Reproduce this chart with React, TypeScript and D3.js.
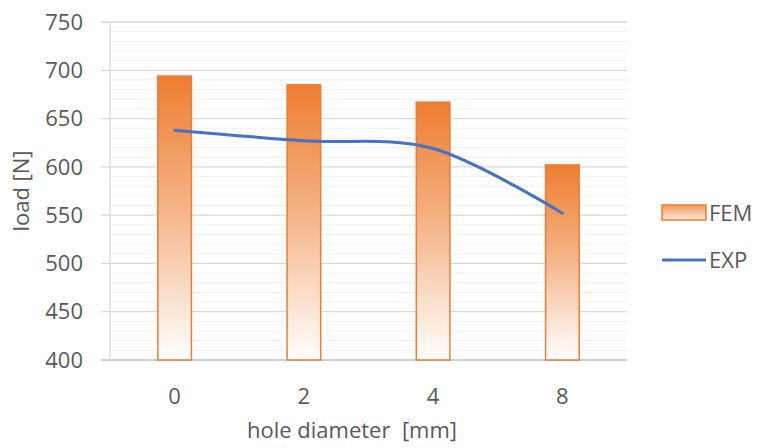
import React from 'react'
import * as d3 from 'd3'

// hole diameter categories
const categories = ['0', '2', '4', '8']
// FEM load values [N]
const femValues = [694, 685, 667, 602]
// experimental load values [N]
const expValues = [638, 627, 619, 552]
const yTicks = [400, 450, 500, 550, 600, 650, 700, 750]
const seriesNames = ['FEM', 'EXP']

const width = 761
const height = 448
const margin = { top: 22, right: 134, bottom: 88, left: 110 }
const font = '"Open Sans", sans-serif'
const fontSize = 22
const textColor = '#595959'

const App: React.FC = () => {
  const x = d3.scaleBand<string>()
    .domain(categories)
    .range([margin.left, width - margin.right])
    .paddingInner(0.74)
    .paddingOuter(0.37)

  const y = d3.scaleLinear()
    .domain([400, 750])
    .range([height - margin.bottom, margin.top])

  const minorTicks = d3.range(400, 751, 10).filter(v => v % 50 !== 0)

  const line = d3.line<number>()
    .x((_, i) => (x(categories[i]) ?? 0) + x.bandwidth() / 2)
    .y(d => y(d))
    .curve(d3.curveCardinal.tension(0))

  const x0 = margin.left
  const x1 = width - margin.right
  const legendX = 662

  return (
    <svg width={width} height={height} style={{ position: 'absolute', left: 0, top: 0, background: '#fff' }}>
      <defs>
        <linearGradient id="femGrad" x1="0" y1="0" x2="0" y2="1">
          <stop offset="0%" stopColor="#ED7D31" />
          <stop offset="45%" stopColor="#F4B183" />
          <stop offset="100%" stopColor="#FFFFFF" />
        </linearGradient>
        <linearGradient id="legendGrad" x1="0" y1="0" x2="0" y2="1">
          <stop offset="0%" stopColor="#F09A5E" />
          <stop offset="100%" stopColor="#FCE8DA" />
        </linearGradient>
      </defs>

      {/* minor gridlines */}
      {minorTicks.map(v => (
        <line key={'m' + v} x1={x0} x2={x1} y1={y(v)} y2={y(v)} stroke="#efefef" strokeWidth={1} />
      ))}
      {/* major gridlines */}
      {yTicks.map(v => (
        <line key={'M' + v} x1={x0 - 9} x2={x1} y1={y(v)} y2={y(v)}
          stroke={v === 400 ? '#bfbfbf' : '#d9d9d9'} strokeWidth={v === 400 ? 1.5 : 1.3} />
      ))}
      <line x1={x0} x2={x0} y1={y(750)} y2={y(400)} stroke="#d9d9d9" strokeWidth={1.3} />

      {/* y tick labels */}
      {yTicks.map(v => (
        <text key={'t' + v} x={83} y={y(v)} dy="0.35em" textAnchor="end"
          fontFamily={font} fontSize={fontSize} fill={textColor}>{v}</text>
      ))}

      {/* bars */}
      {femValues.map((v, i) => (
        <rect key={'b' + i}
          x={x(categories[i])}
          y={y(v)}
          width={x.bandwidth()}
          height={y(400) - y(v)}
          fill="url(#femGrad)"
          stroke="#ED7D31"
          strokeWidth={1.5} />
      ))}

      {/* EXP line */}
      <path d={line(expValues) ?? ''} fill="none" stroke="#4472C4" strokeWidth={3} strokeLinecap="round" />

      {/* x tick labels */}
      {categories.map(c => (
        <text key={'x' + c} x={(x(c) ?? 0) + x.bandwidth() / 2} y={404} textAnchor="middle"
          fontFamily={font} fontSize={fontSize} fill={textColor}>{c}</text>
      ))}

      {/* axis titles */}
      <text x={352} y={438} textAnchor="middle" fontFamily={font} fontSize={fontSize}
        fill={textColor} style={{ whiteSpace: 'pre' }}>hole diameter  [mm]</text>
      <text transform={`translate(29, ${y(575)}) rotate(-90)`} textAnchor="middle"
        fontFamily={font} fontSize={fontSize} fill={textColor}>load [N]</text>

      {/* legend */}
      <rect x={legendX} y={205} width={44} height={15} fill="url(#legendGrad)" stroke="#ED7D31" strokeWidth={1.5} />
      <text x={legendX + 47} y={213} dy="0.35em" fontFamily={font} fontSize={fontSize} fill={textColor}>{seriesNames[0]}</text>
      <line x1={legendX} x2={legendX + 44} y1={260} y2={260} stroke="#4472C4" strokeWidth={3} />
      <text x={legendX + 47} y={260} dy="0.35em" fontFamily={font} fontSize={fontSize} fill={textColor}>{seriesNames[1]}</text>
    </svg>
  )
}

export default App
